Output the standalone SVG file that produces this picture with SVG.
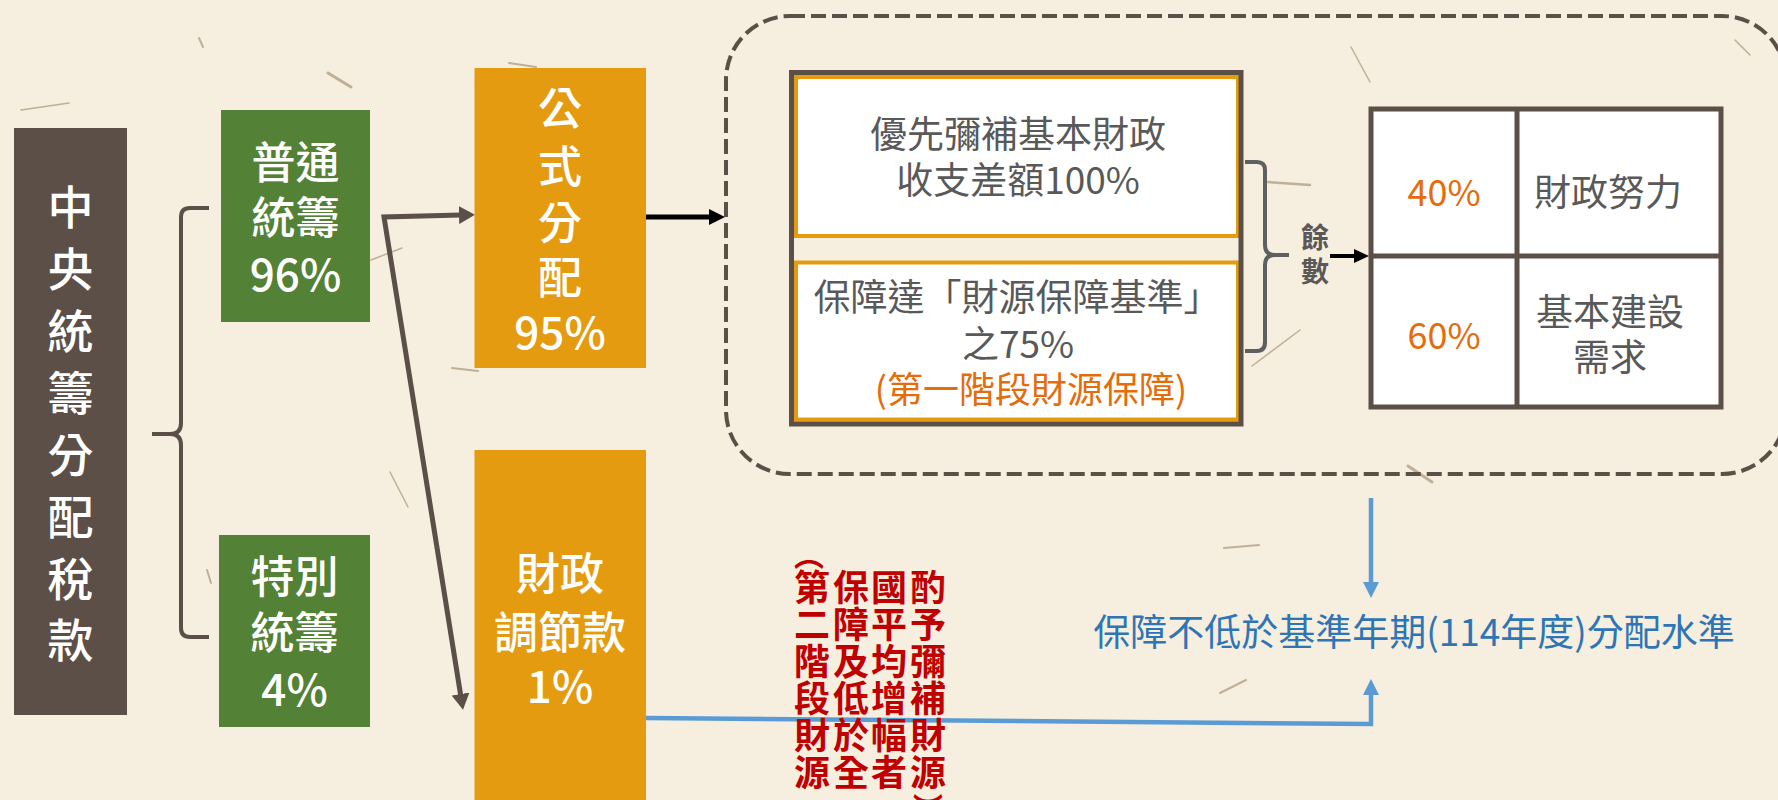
<svg xmlns="http://www.w3.org/2000/svg" width="1778" height="800" viewBox="0 0 1778 800">
  <style>
    text { font-family: "Noto Sans CJK TC", "Noto Sans CJK SC", sans-serif; text-anchor: middle; dominant-baseline: central; }
    .w { fill: #ffffff; font-weight: 500; }
    .wb { font-size: 46px; }
    .wm { font-size: 44px; }
    .g { fill: #595959; font-size: 37px; }
    .o { fill: #E46C0A; font-size: 36px; }
    .r { fill: #C00000; font-size: 36px; font-weight: 700; }
    .rp { fill: #C00000; font-size: 30px; font-weight: 700; }
    .bl { fill: #2E75B6; font-size: 37px; }
    .brn { fill: none; stroke: #5B4F47; stroke-width: 4; }
    .fib { fill: none; stroke: #8a7250; stroke-linecap: round; opacity: 0.5; }
  </style>
  <defs>
    <marker id="mBrown" viewBox="0 0 16 18" refX="2" refY="9" markerWidth="16" markerHeight="18" markerUnits="userSpaceOnUse" orient="auto-start-reverse">
      <path d="M0,0 L16,9 L0,18 Z" fill="#5B4F47"/>
    </marker>
    <marker id="mBlack" viewBox="0 0 16 16" refX="2" refY="8" markerWidth="16" markerHeight="16" markerUnits="userSpaceOnUse" orient="auto">
      <path d="M0,0 L16,8 L0,16 Z" fill="#000"/>
    </marker>
    <marker id="mBlackS" viewBox="0 0 15 14" refX="2" refY="7" markerWidth="15" markerHeight="14" markerUnits="userSpaceOnUse" orient="auto">
      <path d="M0,0 L15,7 L0,14 Z" fill="#000"/>
    </marker>
    <marker id="mBlue" viewBox="0 0 16 16" refX="2" refY="8" markerWidth="16" markerHeight="16" markerUnits="userSpaceOnUse" orient="auto">
      <path d="M0,0 L16,8 L0,16 Z" fill="#5B9BD5"/>
    </marker>
  </defs>

  <rect x="0" y="0" width="1778" height="800" fill="#F6EEDE"/>
  <g id="texture">
    <path class="fib" stroke-width="3" d="M328,73 L351,87"/>
    <path class="fib" stroke-width="2" d="M199,38 L203,47"/>
    <path class="fib" stroke-width="1.5" d="M21,110 L69,103"/>
    <path class="fib" stroke-width="2" d="M509,63 L536,67"/>
    <path class="fib" stroke-width="1.5" d="M371,260 L402,248"/>
    <path class="fib" stroke-width="2" d="M452,368 L478,371"/>
    <path class="fib" stroke-width="2.5" d="M1268,182 L1310,185"/>
    <path class="fib" stroke-width="1.5" d="M1252,366 L1300,330"/>
    <path class="fib" stroke-width="1.5" d="M1351,47 L1370,82"/>
    <path class="fib" stroke-width="3" d="M1408,466 L1432,482"/>
    <path class="fib" stroke-width="2" d="M1224,548 L1259,545"/>
    <path class="fib" stroke-width="2" d="M1220,693 L1246,680"/>
    <path class="fib" stroke-width="1.5" d="M390,472 L408,507"/>
    <path class="fib" stroke-width="2" d="M207,570 L211,583"/>
    <path class="fib" stroke-width="1.5" d="M1735,40 L1750,55"/>
  </g>

  <g id="connectors">
    <path class="brn" d="M209,208 H190 Q181,208 181,217 V423 Q181,434 170,434 H152 M170,434 Q181,434 181,445 V628 Q181,637 190,637 H209"/>
    <polyline points="461,215 384,217 460.8,696" fill="none" stroke="#5B4F47" stroke-width="5" stroke-linejoin="miter" marker-start="url(#mBrown)" marker-end="url(#mBrown)"/>
    <line x1="646" y1="217" x2="711" y2="217" stroke="#000" stroke-width="5" marker-end="url(#mBlack)"/>
    <path fill="none" stroke="#5E5F61" stroke-width="4" d="M1245,162 H1257 Q1265,162 1265,170 V245 Q1265,255 1275,255 H1289 M1275,255 Q1265,255 1265,265 V342 Q1265,351 1257,351 H1245"/>
    <line x1="1330" y1="256" x2="1356" y2="256" stroke="#000" stroke-width="4" marker-end="url(#mBlackS)"/>
    <line x1="1371" y1="498" x2="1371" y2="584" stroke="#5B9BD5" stroke-width="4.5" marker-end="url(#mBlue)"/>
    <polyline points="646,718 1371,724 1371,693" fill="none" stroke="#5B9BD5" stroke-width="4.5" marker-end="url(#mBlue)"/>
  </g>

  <g id="dashed-region">
    <rect x="726" y="16" width="1060" height="458" rx="64" ry="64" fill="none" stroke="#5B4F47" stroke-width="4" stroke-dasharray="15 6"/>
  </g>

  <g id="node-central">
    <rect x="14" y="128" width="113" height="587" fill="#5B4F47"/>
    <text class="w wb" x="70.5" y="204">中</text>
    <text class="w wb" x="70.5" y="266">央</text>
    <text class="w wb" x="70.5" y="328">統</text>
    <text class="w wb" x="70.5" y="390">籌</text>
    <text class="w wb" x="70.5" y="452">分</text>
    <text class="w wb" x="70.5" y="514">配</text>
    <text class="w wb" x="70.5" y="576">稅</text>
    <text class="w wb" x="70.5" y="637">款</text>
  </g>

  <g id="node-general">
    <rect x="221" y="110" width="149" height="212" fill="#538135"/>
    <text class="w wm" x="295.5" y="160">普通</text>
    <text class="w wm" x="295.5" y="215">統籌</text>
    <text class="w wm" x="295.5" y="272">96%</text>
  </g>

  <g id="node-special">
    <rect x="219" y="535" width="151" height="192" fill="#538135"/>
    <text class="w wm" x="294.5" y="574">特別</text>
    <text class="w wm" x="294.5" y="630">統籌</text>
    <text class="w wm" x="294.5" y="687">4%</text>
  </g>

  <g id="node-formula">
    <rect x="474.5" y="68" width="171.5" height="300" fill="#E49B10"/>
    <text class="w wm" x="560" y="106">公</text>
    <text class="w wm" x="560" y="164">式</text>
    <text class="w wm" x="560" y="220">分</text>
    <text class="w wm" x="560" y="275">配</text>
    <text class="w wm" x="560" y="330">95%</text>
  </g>

  <g id="node-adjust">
    <rect x="474.5" y="450" width="171.5" height="360" fill="#E49B10"/>
    <text class="w wm" x="560" y="571">財政</text>
    <text class="w wm" x="560" y="630">調節款</text>
    <text class="w wm" x="560" y="684">1%</text>
  </g>

  <g id="node-priority">
    <rect x="796" y="77" width="442" height="159" fill="#ffffff" stroke="#E49B10" stroke-width="4"/>
    <rect x="796" y="262.5" width="442" height="157" fill="#ffffff" stroke="#E49B10" stroke-width="4"/>
    <rect x="791.5" y="72.5" width="449.5" height="351.5" fill="none" stroke="#5B4F47" stroke-width="5"/>
    <text class="g" x="1018" y="132">優先彌補基本財政</text>
    <text class="g" x="1018" y="178">收支差額100%</text>
    <text class="g" x="1017" y="295">保障達「財源保障基準」</text>
    <text class="g" x="1018" y="342">之75%</text>
    <text class="o" x="1031" y="387">(第一階段財源保障)</text>
  </g>

  <g id="label-remainder">
    <text x="1315" y="236" font-size="28" font-weight="700" fill="#595959">餘</text>
    <text x="1315" y="270" font-size="28" font-weight="700" fill="#595959">數</text>
  </g>

  <g id="node-grid">
    <rect x="1371" y="109" width="350" height="298" fill="#ffffff" stroke="#5B4F47" stroke-width="5"/>
    <line x1="1517" y1="109" x2="1517" y2="407" stroke="#5B4F47" stroke-width="5"/>
    <line x1="1371" y1="256" x2="1721" y2="256" stroke="#5B4F47" stroke-width="5"/>
    <text class="o" x="1444" y="190">40%</text>
    <text class="g" x="1608" y="190">財政努力</text>
    <text class="o" x="1444" y="333">60%</text>
    <text class="g" x="1610" y="310">基本建設</text>
    <text class="g" x="1610" y="355">需求</text>
  </g>

  <g id="label-guarantee">
    <text class="bl" x="1414" y="630">保障不低於基準年期(114年度)分配水準</text>
  </g>

  <g id="label-second-stage">
    <text class="rp" x="809" y="553">︵</text>
    <text class="r" x="812" y="585">第</text>
    <text class="r" x="812" y="622">二</text>
    <text class="r" x="812" y="659">階</text>
    <text class="r" x="812" y="696">段</text>
    <text class="r" x="812" y="733">財</text>
    <text class="r" x="812" y="770">源</text>
    <text class="r" x="851" y="585">保</text>
    <text class="r" x="851" y="622">障</text>
    <text class="r" x="851" y="659">及</text>
    <text class="r" x="851" y="696">低</text>
    <text class="r" x="851" y="733">於</text>
    <text class="r" x="851" y="770">全</text>
    <text class="r" x="889" y="585">國</text>
    <text class="r" x="889" y="622">平</text>
    <text class="r" x="889" y="659">均</text>
    <text class="r" x="889" y="696">增</text>
    <text class="r" x="889" y="733">幅</text>
    <text class="r" x="889" y="770">者</text>
    <text class="r" x="928" y="585">酌</text>
    <text class="r" x="928" y="622">予</text>
    <text class="r" x="928" y="659">彌</text>
    <text class="r" x="928" y="696">補</text>
    <text class="r" x="928" y="733">財</text>
    <text class="r" x="928" y="770">源</text>
    <text class="rp" x="928" y="806">︶</text>
  </g>
</svg>
